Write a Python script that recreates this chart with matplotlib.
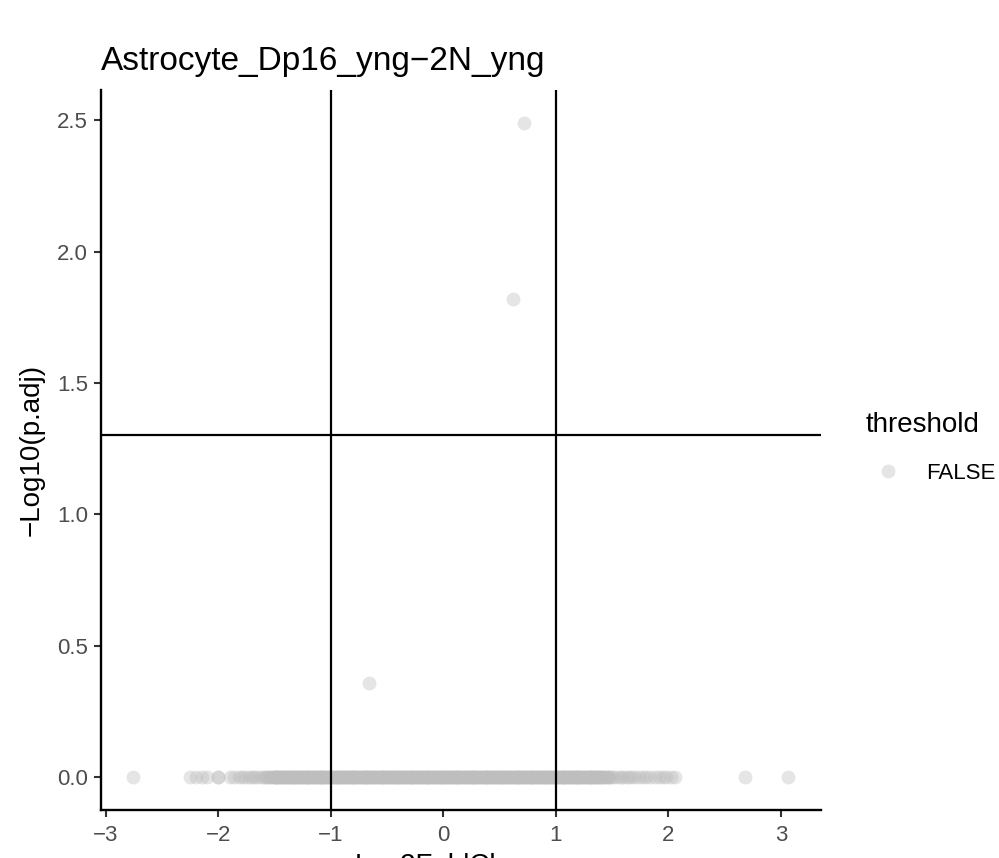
import numpy as np
import matplotlib
matplotlib.use('Agg')
import matplotlib.pyplot as plt
from matplotlib.lines import Line2D

plt.rcParams['font.family'] = ['Liberation Sans', 'DejaVu Sans']

# Genes that got a non-zero -log10(p.adj)
up_fc = [0.72, 0.62, -0.66]
up_logp = [2.49, 1.82, 0.36]

# Genes with p.adj = 1 (sitting on y = 0), sparse tails
tail_fc = [-2.757, -2.25, -2.20, -2.15, -2.10, -2.00, -2.00, -1.90, -1.86, -1.82,
           -1.79, -1.76, -1.73, -1.70, -1.68, -1.66,
           1.50, 1.52, 1.55, 1.58, 1.60, 1.63, 1.65, 1.68, 1.70, 1.74, 1.77,
           1.80, 1.84, 1.88, 1.92, 1.95, 1.98, 2.02, 2.06, 2.68, 3.065]

# Dense block of genes on y = 0 (position, number of genes there)
band_fc = [-1.625, -1.600, -1.575, -1.550, -1.525, -1.500, -1.475, -1.450, -1.425, -1.400,
           -1.375, -1.350, -1.325, -1.300, -1.275, -1.250, -1.225, -1.200, -1.175, -1.150,
           -1.125, -1.100, -1.075, -1.050, -1.025, -1.000, -0.975, -0.950, -0.925, -0.900,
           -0.875, -0.850, -0.825, -0.800, -0.775, -0.750, -0.725, -0.700, -0.675, -0.650,
           -0.625, -0.600, -0.575, -0.550, -0.525, -0.500, -0.475, -0.450, -0.425, -0.400,
           -0.375, -0.350, -0.325, -0.300, -0.275, -0.250, -0.225, -0.200, -0.175, -0.150,
           -0.125, -0.100, -0.075, -0.050, -0.025, 0.000, 0.025, 0.050, 0.075, 0.100,
           0.125, 0.150, 0.175, 0.200, 0.225, 0.250, 0.275, 0.300, 0.325, 0.350,
           0.375, 0.400, 0.425, 0.450, 0.475, 0.500, 0.525, 0.550, 0.575, 0.600,
           0.625, 0.650, 0.675, 0.700, 0.725, 0.750, 0.775, 0.800, 0.825, 0.850,
           0.875, 0.900, 0.925, 0.950, 0.975, 1.000, 1.025, 1.050, 1.075, 1.100,
           1.125, 1.150, 1.175, 1.200, 1.225, 1.250, 1.275, 1.300, 1.325, 1.350,
           1.375, 1.400, 1.425, 1.450, 1.475]
band_n = [1, 1, 2, 2, 2, 3, 3, 3, 3, 3,
          3, 3, 3, 3, 3, 3, 3, 3, 3, 3,
          3, 3, 3, 3, 3, 3, 3, 3, 3, 3,
          3, 3, 3, 3, 3, 3, 3, 3, 3, 3,
          3, 3, 3, 3, 3, 3, 3, 3, 3, 3,
          3, 3, 3, 3, 3, 3, 3, 3, 3, 3,
          3, 3, 3, 3, 3, 3, 3, 3, 3, 3,
          3, 3, 3, 3, 3, 3, 3, 3, 3, 3,
          3, 3, 3, 3, 3, 3, 3, 3, 3, 3,
          3, 3, 3, 3, 3, 3, 3, 3, 3, 3,
          3, 3, 3, 3, 3, 3, 3, 3, 3, 3,
          3, 3, 3, 3, 3, 3, 3, 3, 3, 3,
          3, 3, 2, 2, 2]

x_ticks = [-3, -2, -1, 0, 1, 2, 3]
y_ticks = [0.0, 0.5, 1.0, 1.5, 2.0, 2.5]

W, H = 999, 858
fig = plt.figure(figsize=(W / 100, H / 100), dpi=100)
ax = fig.add_axes([100.5 / W, 48 / H, (821 - 100.5) / W, (810 - 90) / H])

# all points: grey with alpha like ggplot
all_fc = list(np.repeat(band_fc, band_n)) + tail_fc + up_fc
all_logp = [0.0] * (len(all_fc) - len(up_fc)) + up_logp
ax.scatter(all_fc, all_logp, s=100, color='#BEBEBE', alpha=0.4,
           linewidths=0, zorder=2)

# cut-off lines
ax.axvline(-1, color='black', lw=1.6, zorder=3)
ax.axvline(1, color='black', lw=1.6, zorder=3)
ax.axhline(-np.log10(0.05), color='black', lw=1.6, zorder=3)

ax.set_xlim(-3.048, 3.356)
ax.set_ylim(-0.1245, 2.6145)
ax.set_xticks(x_ticks)
ax.set_yticks(y_ticks)
ax.set_yticklabels(['%.1f' % v for v in y_ticks])
ax.tick_params(axis='both', length=5, width=1.5, color='#333333',
               labelcolor='#4D4D4D', labelsize=16, pad=4)
ax.tick_params(axis='x', pad=5.5)

# classic theme: only left and bottom axis lines
for side in ['top', 'right']:
    ax.spines[side].set_visible(False)
for side in ['left', 'bottom']:
    ax.spines[side].set_linewidth(1.7)
    ax.spines[side].set_color('black')

# title and axis titles (x title is cut by the bottom edge, as in the original)
fig.text(100.5 / W, 1 - 70 / H, 'Astrocyte_Dp16_yng\u22122N_yng', fontsize=24,
         ha='left', va='baseline')
fig.text(31.4 / W, 1 - 450 / H, '\u2212Log10(p.adj)', fontsize=20,
         rotation=90, ha='center', va='center')
fig.text(460.5 / W, 1 - 873 / H, 'Log2FoldChange', fontsize=20,
         ha='center', va='baseline')

# legend
handle = Line2D([], [], marker='o', linestyle='none', markersize=10,
                markerfacecolor='#BEBEBE', markeredgewidth=0, alpha=0.4)
leg = ax.legend([handle], ['FALSE'], title='threshold', loc='upper left',
                bbox_to_anchor=(866 / W, 1 - 411.7 / H),
                bbox_transform=fig.transFigure, frameon=False,
                fontsize=16, title_fontsize=20, borderpad=0,
                borderaxespad=0, handlelength=2, handletextpad=0.7,
                labelspacing=1.15, alignment='left')

fig.savefig('out.png', dpi=100)
